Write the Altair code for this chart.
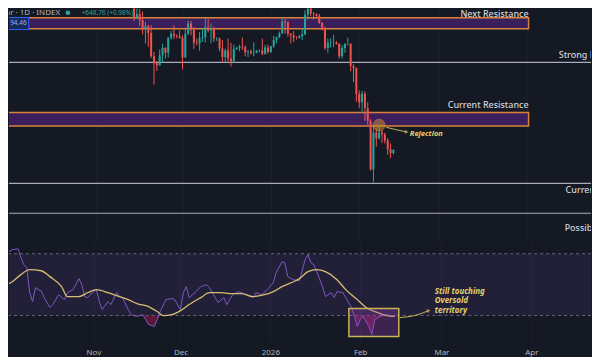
import altair as alt
import pandas as pd

BG = "#151924"
UP = "#26a69a"
DOWN = "#ef5350"
ZONE_FILL = "#3a1f5c"
ZONE_EDGE = "#d9823b"
LEVEL = "#a9acb6"
ANNO = "#e6cf68"
LABEL = "#d1d4dc"
AXIS_TXT = "#b2b5be"
GRID = "#1d2130"
FONT = "Noto Sans"

# ---------------- daily candles (price in thousands USD) ----------------
candle_start = "2025-11-10"
opens = [104.7, 106.0, 103.0, 101.6, 99.7, 94.5, 95.5, 94.2, 92.2, 92.9, 91.5, 86.6, 85.1, 84.7, 86.8, 88.3, 87.3, 90.5, 91.3, 90.9, 90.8,
         90.4, 86.3, 91.3, 93.5, 92.1, 89.4, 89.3, 90.4, 90.6, 92.7, 92.0, 92.5, 90.3, 90.3, 88.2, 86.4, 87.8, 86.1, 85.5, 88.1, 88.3, 88.6, 88.5, 87.4, 87.6, 87.2, 87.3, 87.8, 87.8, 87.1, 88.4,
         87.5, 88.7, 90.0, 90.6, 91.4, 93.9, 93.7, 91.3, 91.0, 90.5, 90.4, 90.8, 91.2, 95.3, 97.0, 95.6, 95.5, 95.1, 93.6, 92.6, 88.3, 89.4, 89.5, 89.5, 89.2, 86.6, 88.3, 89.2, 89.2, 84.5, 84.1,
         78.6, 76.9, 78.7, 75.6, 73.0, 62.7, 70.5, 69.3, 70.5, 70.1, 68.8, 67.0, 66.2]
highs = [106.6, 107.0, 105.3, 104.0, 99.8, 96.8, 96.6, 96.0, 93.8, 93.2, 93.1, 87.5, 85.6, 88.0, 89.2, 88.5, 90.6, 91.9, 93.1, 91.2, 92.0,
         91.0, 92.3, 94.1, 94.0, 92.7, 90.3, 91.7, 92.3, 94.6, 94.4, 93.5, 92.8, 90.6, 90.5, 90.0, 88.2, 90.3, 89.4, 89.0, 88.6, 89.0, 90.5, 88.9, 87.9, 88.0, 89.5, 87.9, 88.0, 90.3, 89.0, 89.0,
         88.8, 90.9, 90.7, 91.8, 94.7, 94.4, 94.0, 91.5, 91.9, 90.8, 91.1, 92.4, 96.3, 97.9, 97.2, 95.9, 95.6, 95.5, 93.8, 92.8, 90.3, 90.4, 91.1, 89.8, 89.3, 88.9, 89.3, 90.5, 89.3, 84.9, 84.2,
         79.4, 79.3, 79.2, 76.9, 73.3, 71.7, 71.3, 72.2, 71.0, 70.5, 69.3, 68.2, 67.0]
lows = [104.3, 102.5, 100.8, 98.0, 94.0, 94.4, 93.0, 91.2, 89.3, 88.6, 86.2, 80.6, 83.5, 84.6, 85.3, 86.1, 86.3, 90.1, 90.2, 90.3, 90.3,
        83.8, 86.2, 91.1, 91.0, 88.1, 88.9, 87.7, 89.6, 89.5, 91.6, 89.3, 89.6, 89.8, 87.6, 85.3, 85.3, 85.4, 84.4, 85.1, 87.9, 87.6, 87.9, 86.6, 86.4, 86.9, 86.6, 87.2, 87.4, 86.8, 86.9, 87.1,
        87.3, 88.3, 89.3, 90.4, 91.3, 91.3, 90.7, 89.3, 89.6, 90.1, 90.3, 90.0, 91.0, 94.3, 95.0, 94.3, 94.9, 93.4, 92.0, 87.9, 87.3, 88.4, 88.5, 89.0, 86.1, 86.1, 87.3, 88.8, 83.4, 81.1, 77.0,
        75.7, 74.6, 73.0, 72.2, 62.5, 60.1, 67.5, 69.0, 68.3, 68.2, 65.8, 65.1, 65.9]
closes = [106.0, 103.0, 101.6, 99.7, 94.5, 95.5, 94.2, 92.2, 92.9, 91.5, 86.6, 85.1, 84.7, 86.8, 88.3, 87.3, 90.5, 91.3, 90.9, 90.8, 90.4,
          86.3, 91.3, 93.5, 92.1, 89.4, 89.3, 90.4, 90.6, 92.7, 92.0, 92.5, 90.3, 90.3, 88.2, 86.4, 87.8, 86.1, 85.5, 88.1, 88.3, 88.6, 88.5, 87.4, 87.6, 87.2, 87.3, 87.8, 87.8, 87.1, 88.4, 87.5,
          88.7, 90.0, 90.6, 91.4, 93.9, 93.7, 91.3, 91.0, 90.5, 90.4, 90.8, 91.2, 95.3, 97.0, 95.6, 95.5, 95.1, 93.6, 92.6, 88.3, 89.4, 89.5, 89.5, 89.2, 86.6, 88.3, 89.2, 89.2, 84.5, 84.1, 78.6,
          76.9, 78.7, 75.6, 73.0, 62.7, 70.5, 69.3, 70.5, 70.1, 68.8, 67.0, 66.2, 66.8]
dates = pd.date_range(candle_start, periods=len(closes), freq="D").strftime("%Y-%m-%dT00:00:00").tolist()

# ---------------- levels ----------------
zone_names = ["Next Resistance", "Current Resistance"]
zone_lo = [92.35, 71.9]
zone_hi = [94.7, 74.7]
zone_label_y = [95.45, 76.25]
zone_start = "2025-09-01T00:00:00"
zone_end = "2026-04-01T10:00:00"

line_names = ["Strong Resistance", "Current Support", "Possible Support"]
line_vals = [85.3, 59.8, 53.5]
line_label_x = ["2026-04-12T00:00:00", "2026-04-14T10:00:00", "2026-04-14T02:00:00"]
line_label_y = [86.75, 58.4, 50.4]

# rejection annotation
rej_x = ["2026-02-08T00:00:00"]
rej_y = [72.05]
rej_arrow_x = ["2026-02-10T12:00:00", "2026-02-17T16:00:00"]
rej_arrow_y = [71.6, 70.6]
rej_label_x = ["2026-02-18T18:00:00"]
rej_label_y = [70.2]

# header
header_title = "Bitcoin / U.S. Dollar · 1D · INDEX"
header_change = "+648.76 (+0.98%)"
header_x = ["2025-10-19T01:00:00", "2025-10-21T19:00:00", "2025-10-26T15:00:00"]
header_y = 95.75
price_tag = "94.46"

# ---------------- RSI ----------------
rsi_dates = ["2025-09-30", "2025-10-01", "2025-10-02", "2025-10-04", "2025-10-06", "2025-10-07", "2025-10-08", "2025-10-09",
             "2025-10-10", "2025-10-11", "2025-10-12", "2025-10-13", "2025-10-14", "2025-10-15", "2025-10-17", "2025-10-18",
             "2025-10-20", "2025-10-22", "2025-10-23", "2025-10-25", "2025-10-27", "2025-10-28", "2025-10-29", "2025-10-30",
             "2025-11-01", "2025-11-02", "2025-11-03", "2025-11-04", "2025-11-06", "2025-11-07", "2025-11-09", "2025-11-10",
             "2025-11-11", "2025-11-13", "2025-11-14", "2025-11-16", "2025-11-18", "2025-11-20", "2025-11-22", "2025-11-23",
             "2025-11-24", "2025-11-26", "2025-11-28", "2025-11-29", "2025-12-01", "2025-12-02", "2025-12-03", "2025-12-04",
             "2025-12-06", "2025-12-08", "2025-12-10", "2025-12-11", "2025-12-12", "2025-12-14", "2025-12-16", "2025-12-17",
             "2025-12-19", "2025-12-21", "2025-12-22", "2025-12-24", "2025-12-26", "2025-12-27", "2025-12-29", "2025-12-31",
             "2026-01-02", "2026-01-03", "2026-01-05", "2026-01-06", "2026-01-07", "2026-01-09", "2026-01-11", "2026-01-13",
             "2026-01-14", "2026-01-15", "2026-01-16", "2026-01-17", "2026-01-19", "2026-01-20", "2026-01-22", "2026-01-23",
             "2026-01-24", "2026-01-26", "2026-01-27", "2026-01-29", "2026-01-30", "2026-01-31", "2026-02-01", "2026-02-02",
             "2026-02-04", "2026-02-05", "2026-02-06", "2026-02-08", "2026-02-10", "2026-02-12", "2026-02-13"]
rsi_vals = [53.2, 66.1, 70.6, 72.6, 73.2, 67.4, 62.9, 61.0,
            45.0, 39.0, 48.1, 46.8, 46.0, 41.6, 35.2, 37.1,
            43.5, 40.3, 44.8, 46.8, 53.9, 50.0, 42.3, 41.6,
            45.5, 46.8, 39.0, 33.9, 39.0, 37.1, 44.8, 42.3,
            41.6, 33.9, 30.6, 29.4, 30.6, 24.2, 22.9, 27.4,
            32.6, 40.3, 41.0, 40.3, 33.9, 44.8, 48.7, 41.6,
            44.8, 48.7, 50.0, 48.1, 44.8, 38.4, 41.6, 37.1,
            43.5, 45.5, 44.8, 43.5, 41.6, 44.8, 43.5, 46.8,
            51.3, 57.7, 64.8, 64.2, 55.2, 53.2, 52.5, 66.1,
            69.4, 64.2, 62.9, 58.4, 48.7, 42.3, 44.8, 41.6,
            45.5, 44.8, 41.6, 35.2, 29.4, 22.9, 27.4, 29.4,
            22.9, 17.7, 27.4, 29.4, 30.6, 29.4, 30.0]
ma_dates = ["2025-09-30", "2025-10-04", "2025-10-07", "2025-10-10", "2025-10-14", "2025-10-17", "2025-10-21", "2025-10-23",
            "2025-10-27", "2025-10-30", "2025-11-02", "2025-11-06", "2025-11-09", "2025-11-13", "2025-11-16", "2025-11-20",
            "2025-11-23", "2025-11-25", "2025-11-28", "2025-12-01", "2025-12-04", "2025-12-08", "2025-12-11", "2025-12-15",
            "2025-12-18", "2025-12-22", "2025-12-26", "2025-12-30", "2026-01-02", "2026-01-05", "2026-01-09", "2026-01-11",
            "2026-01-14", "2026-01-17", "2026-01-20", "2026-01-24", "2026-01-27", "2026-01-31", "2026-02-03", "2026-02-07",
            "2026-02-10", "2026-02-13"]
ma_vals = [48.7, 51.9, 56.5, 59.7, 59.0, 55.2, 48.7, 42.3,
           42.3, 44.8, 46.8, 44.8, 42.9, 40.3, 37.7, 35.8,
           32.6, 30.0, 30.6, 33.2, 37.1, 41.6, 44.8, 44.8,
           44.2, 44.2, 42.3, 43.5, 45.5, 48.7, 51.9, 53.9,
           58.4, 59.7, 58.4, 53.2, 46.8, 40.3, 35.2, 31.9,
           30.0, 29.4]
rsi_upper, rsi_lower = 70, 30

box_x = ["2026-01-28T02:00:00", "2026-02-14T07:00:00"]
box_y = [34.5, 16.5]
note_lines = ["Still touching", "Oversold", "territory"]
note_x = "2026-02-26T17:00:00"
note_y = [45.5, 39.35, 33.2]
note_arrow_x = ["2026-02-14T15:00:00", "2026-02-19T19:00:00", "2026-02-24T15:00:00"]
note_arrow_y = [28.7, 30.0, 33.2]

# ---------------- scales / axes ----------------
x_dom = [alt.DateTime(year=2025, month=10, date=2, hours=21), alt.DateTime(year=2026, month=4, date=21, hours=14)]
xscale = alt.Scale(domain=x_dom)
tick_vals = [alt.DateTime(year=2025, month=11, date=1), alt.DateTime(year=2025, month=12, date=1),
             alt.DateTime(year=2026, month=1, date=1), alt.DateTime(year=2026, month=2, date=1),
             alt.DateTime(year=2026, month=3, date=1), alt.DateTime(year=2026, month=4, date=1)]
grid_axis = alt.Axis(values=tick_vals, labels=False, ticks=False, domain=False, grid=True, gridColor=GRID, title=None)
bottom_axis = alt.Axis(values=tick_vals, ticks=False, domain=False, grid=True, gridColor=GRID, title=None,
                       labelExpr="month(datum.value) == 0 ? timeFormat(datum.value, '%Y') : timeFormat(datum.value, '%b')",
                       labelColor=AXIS_TXT, labelFontSize=8, labelFont=FONT, labelPadding=6)
pscale = alt.Scale(domain=[47.9, 96.62], nice=False, zero=False)
rscale = alt.Scale(domain=[12.58, 79.03], nice=False, zero=False)

W, H1, H2 = 584, 232, 103


def X(field, axis=grid_axis):
    return alt.X(field, type="temporal", scale=xscale, axis=axis)


def PY(field):
    return alt.Y(field, type="quantitative", scale=pscale, axis=None)


# ---------------- upper panel ----------------
cdf = pd.DataFrame({"date": dates, "open": opens, "high": highs, "low": lows, "close": closes})
cdf["dir"] = ["up" if c >= o else "down" for o, c in zip(opens, closes)]
color = alt.Color("dir:N", scale=alt.Scale(domain=["up", "down"], range=[UP, DOWN]), legend=None)

zdf = pd.DataFrame({"name": zone_names, "lo": zone_lo, "hi": zone_hi, "ly": zone_label_y,
                    "x0": [zone_start] * 2, "x1": [zone_end] * 2})
ldf = pd.DataFrame({"name": line_names, "v": line_vals, "lx": line_label_x, "ly": line_label_y})

zones = alt.Chart(zdf).mark_rect(fill=ZONE_FILL, stroke=ZONE_EDGE, strokeWidth=1.5, clip=True).encode(
    x=X("x0"), x2="x1", y=PY("lo"), y2="hi")
zone_text = alt.Chart(zdf).mark_text(align="right", baseline="middle", color=LABEL, font=FONT, fontSize=9,
                                     fontWeight=500).encode(x=X("x1"), y=PY("ly"), text="name")
levels = alt.Chart(ldf).mark_rule(color=LEVEL, strokeWidth=1.2).encode(y=PY("v"))
level_text = alt.Chart(ldf).mark_text(align="left", baseline="middle", color=LABEL, font=FONT, fontSize=9,
                                      fontWeight=500, clip=True).encode(x=X("lx"), y=PY("ly"), text="name")
wicks = alt.Chart(cdf).mark_rule(strokeWidth=1, clip=True).encode(x=X("date"), y=PY("low"), y2="high", color=color)
bodies = alt.Chart(cdf).mark_bar(size=2, clip=True).encode(x=X("date"), y=PY("open"), y2="close", color=color)

rej = alt.Chart(pd.DataFrame({"x": rej_x, "y": rej_y})).mark_point(
    shape="circle", size=140, filled=True, color="#c98a2e", opacity=0.55, stroke="#e3a04a", strokeWidth=1).encode(
    x=X("x"), y=PY("y"))
rej_arrow_df = pd.DataFrame({"x": rej_arrow_x, "y": rej_arrow_y})
rej_arrow = alt.Chart(rej_arrow_df).mark_line(color="#c9b458", strokeWidth=1).encode(x=X("x"), y=PY("y"))
rej_head = alt.Chart(rej_arrow_df.tail(1)).mark_point(shape="triangle-right", size=18, filled=True,
                                                      color="#c9b458", angle=13).encode(x=X("x"), y=PY("y"))
rej_text = alt.Chart(pd.DataFrame({"x": rej_label_x, "y": rej_label_y, "t": ["Rejection"]})).mark_text(
    align="left", baseline="middle", color=ANNO, font=FONT, fontSize=7.5, fontWeight="bold",
    fontStyle="italic").encode(x=X("x"), y=PY("y"), text="t")

hdr = pd.DataFrame({"x": header_x, "y": [header_y] * 3, "t": [header_title, "", header_change]})
hdr_title = alt.Chart(hdr.iloc[[0]]).mark_text(align="right", baseline="middle", color=AXIS_TXT, font=FONT,
                                               fontSize=8, clip=True).encode(x=X("x"), y=PY("y"), text="t")
hdr_dot = alt.Chart(hdr.iloc[[1]]).mark_point(shape="circle", filled=True, size=22, color=UP, opacity=1).encode(
    x=X("x"), y=PY("y"))
hdr_change = alt.Chart(hdr.iloc[[2]]).mark_text(align="left", baseline="middle", color=UP, font=FONT,
                                                fontSize=6.5).encode(x=X("x"), y=PY("y"), text="t")
tag_df = pd.DataFrame({"x0": ["2025-09-20T00:00:00"], "x1": ["2025-10-08T01:00:00"], "lo": [92.2], "hi": [94.75],
                       "tx": ["2025-10-07T08:00:00"], "ty": [93.5], "t": [price_tag]})
tag = alt.Chart(tag_df).mark_rect(fill="#172a5e", stroke="#2962ff", strokeWidth=1, clip=True).encode(
    x=X("x0"), x2="x1", y=PY("lo"), y2="hi")
tag_text = alt.Chart(tag_df).mark_text(align="right", baseline="middle", color="#8fb0ff", font=FONT,
                                       fontSize=6.5, clip=True).encode(x=X("tx"), y=PY("ty"), text="t")

upper = alt.layer(zones, levels, wicks, bodies, zone_text, level_text, rej, rej_arrow, rej_head, rej_text,
                  tag, tag_text, hdr_title, hdr_dot, hdr_change).properties(width=W, height=H1)

# ---------------- RSI panel ----------------
def RY(field):
    return alt.Y(field, type="quantitative", scale=rscale, axis=None)


rdf = pd.DataFrame({"date": [d + "T00:00:00" for d in rsi_dates], "rsi": rsi_vals})
mdf = pd.DataFrame({"date": [d + "T00:00:00" for d in ma_dates], "ma": ma_vals})
band_df = pd.DataFrame({"top": [rsi_upper], "bot": [rsi_lower]})
lvl_df = pd.DataFrame({"v": [rsi_upper, rsi_lower]})

band = alt.Chart(band_df).mark_rect(fill="#7e57c2", opacity=0.13).encode(y=RY("top"), y2="bot")
band_lines = alt.Chart(lvl_df).mark_rule(color="#787b86", strokeDash=[3, 3], strokeWidth=1, opacity=0.8).encode(
    y=RY("v"))
os_area = alt.Chart(rdf).transform_calculate(lo=f"min(datum.rsi, {rsi_lower})", base=f"{rsi_lower}").mark_area(
    color="#c2185b", opacity=0.4, clip=True).encode(x=X("date", bottom_axis), y=RY("lo"), y2="base")
rsi_line = alt.Chart(rdf).mark_line(color="#7e57c2", strokeWidth=1, clip=True).encode(
    x=X("date", bottom_axis), y=RY("rsi"))
ma_line = alt.Chart(mdf).mark_line(color="#d6bd72", strokeWidth=1.3, interpolate="monotone", clip=True).encode(
    x=X("date", bottom_axis), y=RY("ma"))
box_df = pd.DataFrame({"x0": [box_x[0]], "x1": [box_x[1]], "y0": [box_y[0]], "y1": [box_y[1]]})
box = alt.Chart(box_df).mark_rect(fill="#9b3fb5", fillOpacity=0.3, stroke="#c9b458", strokeWidth=1.5).encode(
    x=X("x0", bottom_axis), x2="x1", y=RY("y0"), y2="y1")
note_df = pd.DataFrame({"x": [note_x] * 3, "y": note_y, "t": note_lines})
note = alt.Chart(note_df).mark_text(align="left", baseline="middle", color=ANNO, font=FONT, fontSize=8,
                                    fontWeight="bold", fontStyle="italic").encode(
    x=X("x", bottom_axis), y=RY("y"), text="t")
na_df = pd.DataFrame({"x": note_arrow_x, "y": note_arrow_y})
note_arrow = alt.Chart(na_df).mark_line(color="#c9b458", strokeWidth=1, interpolate="monotone").encode(
    x=X("x", bottom_axis), y=RY("y"))
note_head = alt.Chart(na_df.tail(1)).mark_point(shape="triangle-right", size=18, filled=True, color="#c9b458",
                                                angle=340).encode(x=X("x", bottom_axis), y=RY("y"))

lower = alt.layer(band, band_lines, os_area, rsi_line, ma_line, box, note, note_arrow, note_head).properties(
    width=W, height=H2)

chart = alt.vconcat(upper, lower, spacing=0).properties(background=BG, padding=0).configure_view(stroke=None)

chart.save("out.html", embed_options={"renderer": "svg", "actions": False})
